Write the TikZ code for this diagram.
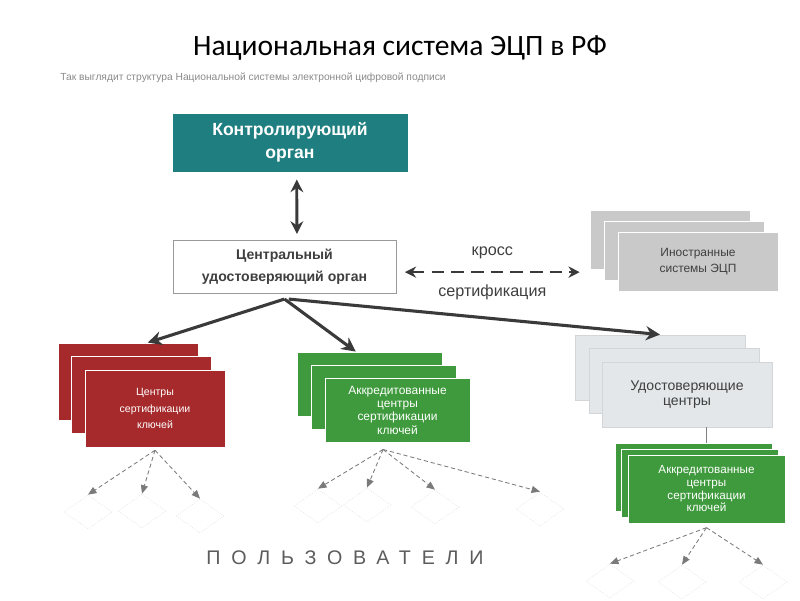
\documentclass[tikz,border=0pt]{standalone}
\usepackage{fontspec}
\setmainfont{Liberation Sans}
\newfontfamily\titlefont{Carlito}
\usepackage{xcolor}
\usepackage{tikz}
\usetikzlibrary{positioning, arrows.meta, shapes.geometric}
\definecolor{ctrlTeal}{HTML}{1F7E80}
\definecolor{caRed}{HTML}{A62A2C}
\definecolor{caGreen}{HTML}{3E9A3C}
\definecolor{frgGray}{HTML}{C9C9C9}
\definecolor{ucGray}{HTML}{E3E7E9}
\definecolor{ucLine}{HTML}{D2D6D8}
\definecolor{cuoLine}{HTML}{9A9A9A}
\definecolor{arrGray}{HTML}{3A3A3A}
\definecolor{txtGray}{HTML}{3F3F3F}
\definecolor{subGray}{HTML}{8A8A8A}
\definecolor{usrGray}{HTML}{7A7A7A}
\definecolor{usrFaint}{HTML}{E2E2E2}

\begin{document}
\begin{tikzpicture}[x=0.025cm, y=-0.025cm,
box/.style={draw=white, line width=0.6pt, align=center, inner sep=0pt},
redbox/.style={box, fill=caRed, minimum width=3.5cm, minimum height=1.925cm, text=white, font=\fontsize{7.5}{12}\selectfont},
grnbox/.style={box, fill=caGreen, minimum width=3.625cm, minimum height=1.6cm, text=white, font=\fontsize{8.5}{9.5}\selectfont},
sgbox/.style={box, fill=caGreen, minimum width=3.925cm, minimum height=1.7cm, text=white, font=\fontsize{8.3}{9}\selectfont},
frgbox/.style={box, fill=frgGray, minimum width=4.0cm, minimum height=1.475cm, text=txtGray, font=\fontsize{8.5}{11.4}\selectfont},
ucbox/.style={box, draw=ucLine, fill=ucGray, minimum width=4.25cm, minimum height=1.625cm, text=txtGray, font=\fontsize{10}{11}\selectfont},
mainarrow/.style={draw=arrGray, line width=2.2pt, -{Stealth[length=10pt, width=10pt]}},
usrarrow/.style={draw=usrGray, line width=0.6pt, densely dashed, -{Triangle[length=6pt, width=5pt]}},
usr/.style={diamond, draw=usrFaint, densely dotted, line width=0.5pt, minimum width=1.2cm, minimum height=0.85cm, inner sep=0pt}]
\useasboundingbox (0,0) rectangle (800,600);
\node[font=\titlefont\fontsize{21}{25}\selectfont] (title) at (400,48) {Национальная система ЭЦП в РФ};
\node[anchor=west, inner sep=0pt, text=subGray, font=\fontsize{7.3}{9}\selectfont] (sub) at (60,78) {Так выглядит структура Национальной системы электронной цифровой подписи};
\node[box, fill=ctrlTeal, minimum width=5.9cm, minimum height=1.475cm, text=white, font=\bfseries\fontsize{12.5}{16}\selectfont] (ctrl) at (290,142.5) {Контролирующий\\орган};
\node[box, draw=cuoLine, fill=white, minimum width=5.575cm, minimum height=1.325cm, text=txtGray, font=\bfseries\fontsize{10}{16}\selectfont] (cuo) at (284.5,266.5) {Центральный\\удостоверяющий орган};
\draw[arrGray, line width=2pt, {Stealth[length=9pt, width=9pt]}-{Stealth[length=9pt, width=9pt]}] ([xshift=0.17cm, yshift=-5pt]ctrl.south) -- ([xshift=0.31cm, yshift=4pt]cuo.north);
\node[frgbox] (frg1) at (670,239.5) {};
\node[frgbox] (frg2) at (684,250.5) {};
\node[frgbox] (frg3) at (698,261.5) {Иностранные\\системы ЭЦП};
\draw[arrGray, line width=1.6pt, dash pattern=on 9pt off 5pt, {Stealth[length=8pt, width=8pt]}-{Stealth[length=8pt, width=8pt]}] ([xshift=6pt, yshift=-4pt]cuo.east) -- ([xshift=-7pt, yshift=-4pt]frg1.west |- cuo.east) node[midway, above=5pt, text=txtGray, font=\fontsize{11.5}{13}\selectfont] {кросс} node[midway, below=5pt, text=txtGray, font=\fontsize{11.5}{13}\selectfont] {сертификация};
\node[redbox] (red1) at (128,381.5) {};
\node[redbox] (red2) at (141.5,395) {};
\node[redbox] (red3) at (155,408.5) {Центры\\сертификации\\ключей};
\node[grnbox] (grn1) at (369.5,384) {};
\node[grnbox] (grn2) at (383.5,397) {};
\node[grnbox] (grn3) at (397.5,410) {Аккредитованные\\центры\\сертификации\\ключей};
\node[ucbox] (uc1) at (660,367.5) {};
\node[ucbox] (uc2) at (674,381) {};
\node[ucbox] (uc3) at (687,394.5) {Удостоверяющие\\центры};
\node[sgbox] (sg1) at (693.5,477) {};
\node[sgbox] (sg2) at (700,483) {};
\node[sgbox] (sg3) at (706.5,489) {Аккредитованные\\центры\\сертификации\\ключей};
\draw[ucLine!60!black, line width=0.5pt] (uc3.south -| sg3.north) -- (sg1.north -| sg3.north);
\draw[mainarrow] ([yshift=-4pt]cuo.south) -- (red1.63);
\draw[mainarrow] ([yshift=-4pt]cuo.south) -- (grn1.113);
\draw[mainarrow] ([xshift=3pt, yshift=-4pt]cuo.south) -- (uc1.north);
\node[usr] (u1) at (88,512) {};
\node[usr] (u2) at (142,511) {};
\node[usr] (u3) at (200,516) {};
\node[usr] (u4) at (318,506) {};
\node[usr] (u5) at (367,505) {};
\node[usr] (u6) at (435,507) {};
\node[usr] (u7) at (540,509) {};
\node[usr] (u8) at (610,581) {};
\node[usr] (u9) at (682,582) {};
\node[usr] (u10) at (763,582) {};
\foreach \u in {u1,u2,u3} \draw[usrarrow] ([yshift=-2pt]red3.south) -- (\u.north);
\foreach \u in {u4,u5,u6,u7} \draw[usrarrow] ([yshift=-5pt]grn3.-114) -- (\u.north);
\foreach \u in {u8,u9,u10} \draw[usrarrow] ([yshift=-3pt]sg3.south) -- (\u.north);
\node[text=txtGray!85, font=\addfontfeature{LetterSpace=55}\fontsize{14}{16}\selectfont] (users) at (345,558) {ПОЛЬЗОВАТЕЛИ};
\end{tikzpicture}
\end{document}
